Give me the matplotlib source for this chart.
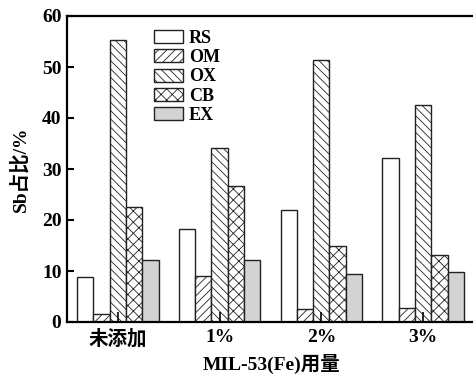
import matplotlib
matplotlib.use("Agg")
import matplotlib.pyplot as plt
import numpy as np

plt.rcParams['font.family'] = ['Liberation Serif', 'Noto Sans CJK SC']
plt.rcParams['font.weight'] = 'bold'
plt.rcParams['hatch.linewidth'] = 0.6

categories = ['未添加', '1%', '2%', '3%']
series_names = ['RS', 'OM', 'OX', 'CB', 'EX']
RS = [8.9, 18.3, 22.0, 32.1]
OM = [1.5, 9.1, 2.6, 2.7]
OX = [55.2, 34.2, 51.3, 42.5]
CB = [22.6, 26.7, 15.0, 13.1]
EX = [12.1, 12.1, 9.4, 9.8]
yticks = [0, 10, 20, 30, 40, 50, 60]

data = [RS, OM, OX, CB, EX]
hatches = ['', '////', '\\\\\\\\', 'xxx', '']
faces = ['white', 'white', 'white', 'white', '#d3d3d3']

fig = plt.figure(figsize=(4.73, 3.76), dpi=100)
ax = fig.add_axes([67/473, 54/376, 409/473, 306/376])

x = np.arange(len(categories))
w = 0.16
for i, (vals, h, fc, name) in enumerate(zip(data, hatches, faces, series_names)):
    ax.bar(x + (i - 2) * w, vals, width=w, facecolor=fc, edgecolor='#222222',
           hatch=h, linewidth=1.0, label=name)

ax.set_xlim(-0.5, 3.52)
ax.set_ylim(0, 60)
ax.set_yticks(yticks)
ax.set_xticks(x)
ax.set_xticklabels(categories, fontsize=14)
ax.tick_params(axis='y', direction='in', length=5, width=1.5, labelsize=14, pad=4)
ax.tick_params(axis='x', direction='in', length=7, width=1.2, pad=5)
for s in ax.spines.values():
    s.set_linewidth(1.6)

ax.set_ylabel('Sb占比/%', fontsize=14, fontweight='bold', labelpad=9)
ax.set_xlabel('MIL-53(Fe)用量', fontsize=14, fontweight='bold', labelpad=4)

leg = ax.legend(loc='upper left', bbox_to_anchor=(0.212, 0.955), frameon=False,
                fontsize=13, handlelength=1.6, handleheight=0.72,
                labelspacing=0.13, handletextpad=0.35, borderaxespad=0,
                borderpad=0)

fig.savefig('out.png', dpi=100)
